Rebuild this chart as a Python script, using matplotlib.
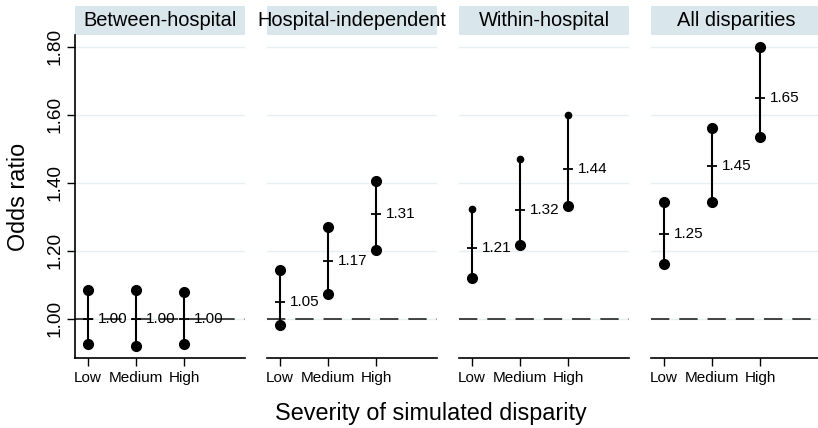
import matplotlib.pyplot as plt
from matplotlib.patches import Rectangle

plt.rcParams['font.family'] = ['Liberation Sans', 'DejaVu Sans']

# Data
panels = ['Between-hospital', 'Hospital-independent', 'Within-hospital', 'All disparities']
severity = ['Low', 'Medium', 'High']
estimates = [[1.00, 1.00, 1.00],
             [1.05, 1.17, 1.31],
             [1.21, 1.32, 1.44],
             [1.25, 1.45, 1.65]]
lower = [[0.926, 0.921, 0.927],
         [0.982, 1.073, 1.203],
         [1.121, 1.216, 1.333],
         [1.161, 1.343, 1.536]]
upper = [[1.085, 1.085, 1.080],
         [1.144, 1.271, 1.406],
         [1.323, 1.470, 1.600],
         [1.343, 1.561, 1.800]]
yticks = [1.0, 1.2, 1.4, 1.6, 1.8]

W, H = 818, 428
fig = plt.figure(figsize=(W / 100, H / 100), dpi=100)

left_px = [75, 267, 459, 651]
top_px, bottom_px, width_px = 35, 358, 170
strip_h = 29

grid_color = '#e6eff1'
strip_color = '#d9e6ec'

for i, name in enumerate(panels):
    ax = fig.add_axes([left_px[i] / W, 1 - bottom_px / H,
                       width_px / W, (bottom_px - top_px) / H])
    x = [1, 2, 3]
    # dashed reference line at OR = 1
    ax.axhline(1.0, color='#111111', lw=1.1, linestyle=(0, (12, 6.5)), zorder=2)
    for j in range(3):
        ax.plot([x[j], x[j]], [lower[i][j], upper[i][j]], color='black', lw=1.5, zorder=3)
        ax.plot(x[j], lower[i][j], 'o', color='black', ms=7, zorder=4)
        up_ms = 4.5 if name == 'Within-hospital' else 7
        ax.plot(x[j], upper[i][j], 'o', color='black', ms=up_ms, zorder=4)
        ax.plot(x[j], estimates[i][j], '_', color='black', ms=7, mew=1.3, zorder=4)
        ax.annotate(f'{estimates[i][j]:.2f}', (x[j], estimates[i][j]),
                    xytext=(7, 0), textcoords='offset points',
                    ha='left', va='center', fontsize=11, zorder=5)

    ax.set_xlim(0.729, 4.271)
    ax.set_ylim(0.885, 1.835)
    ax.set_yticks(yticks)
    ax.yaxis.grid(True, color=grid_color, lw=1.0)
    ax.set_axisbelow(True)
    ax.set_xticks(x)
    ax.set_xticklabels(severity, fontsize=11)
    ax.tick_params(axis='x', direction='out', length=6, width=1, pad=3.5)

    for s in ['top', 'right']:
        ax.spines[s].set_visible(False)
    ax.spines['bottom'].set_linewidth(1.2)
    if i == 0:
        ax.spines['left'].set_linewidth(1.2)
        ax.set_yticklabels([f'{v:.2f}' for v in yticks], fontsize=13.7,
                           rotation=90, va='center')
        ax.tick_params(axis='y', direction='out', length=6, width=1, pad=2)
    else:
        ax.spines['left'].set_visible(False)
        ax.tick_params(axis='y', left=False, labelleft=False)

    # strip title
    sh = strip_h / (bottom_px - top_px)
    ax.add_patch(Rectangle((0, 1.0), 1, sh, transform=ax.transAxes,
                           facecolor=strip_color, edgecolor='none', clip_on=False))
    ax.text(0.5, 1.0 + sh / 2, name, transform=ax.transAxes,
            ha='center', va='center', fontsize=14.4)

fig.text(19 / W, 1 - 197 / H, 'Odds ratio', rotation=90, ha='center', va='center', fontsize=16.8)
fig.text(431 / W, 1 - 420 / H, 'Severity of simulated disparity', ha='center', va='baseline',
         fontsize=16.8)

fig.savefig('out.png', dpi=100)
